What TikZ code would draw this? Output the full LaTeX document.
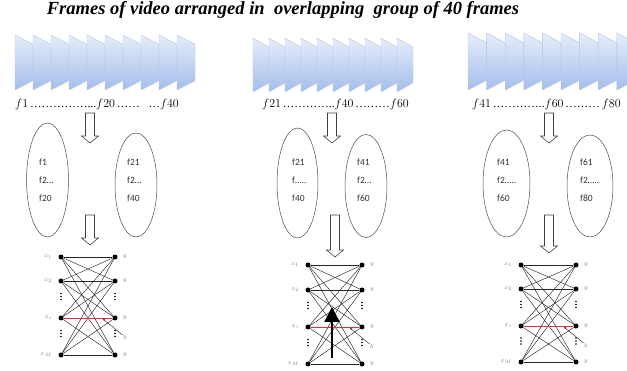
\documentclass[tikz,border=0pt]{standalone}
\usepackage{fontspec}
\setmainfont{Liberation Serif}
\newfontfamily\calibri{Carlito}
\usetikzlibrary{shapes.geometric, arrows.meta, positioning}

\definecolor{frametop}{HTML}{E6EDFA}
\definecolor{framebot}{HTML}{A4BEEB}
\definecolor{frameline}{HTML}{B6C6DE}
\definecolor{edgered}{HTML}{E0303C}

\begin{document}
\begin{tikzpicture}[x=1pt, y=-1pt,
    frame/.style={top color=frametop, bottom color=framebot, draw=frameline, line width=0.4pt},
    hollow/.style={draw=black!75, line width=0.6pt, fill=white},
    setell/.style={ellipse, draw=black!70, line width=0.5pt, inner sep=0pt},
    settxt/.style={font=\calibri\fontsize{9.5}{18}\selectfont, align=left, anchor=west, text=black!80, inner sep=0pt},
    flab/.style={anchor=west, inner sep=0pt, font=\fontsize{11.5}{13}\selectfont},
    vert/.style={circle, fill=black, inner sep=0pt, minimum size=5pt},
    link/.style={black!85, line width=0.45pt},
    vlab/.style={font=\fontsize{6}{7}\selectfont, text=black!50, inner sep=0pt}]

    \useasboundingbox (0,0) rectangle (627,371);
    \clip (0,0) rectangle (627,371);

    % 标题
    \node[font=\bfseries\itshape\fontsize{18.5}{20}\selectfont] (title) at (283,10) {Frames of video arranged in\ \ overlapping\ \ group of 40 frames};

    % 1. 三组视频帧 (梯形, 渐变填充)
    \foreach \fx/\fy/\fw/\fh/\fn in {15/35/18/55/10, 253/38/16/54/10, 468/33/18.6/57/9}
    {
        \foreach \k in {1,...,\fn}
        {
            \pgfmathsetmacro{\xa}{\fx + (\k-1)*\fw}
            \pgfmathsetmacro{\xb}{\xa + \fw}
            \pgfmathsetmacro{\dy}{0.17*\fh}
            \path[frame] (\xa,\fy) -- (\xb,\fy+\dy) -- (\xb,\fy+\fh-\dy) -- (\xa,\fy+\fh) -- cycle;
        }
    }

    % 帧编号
    \node[flab] (F1) at (15,105) {$f1$\,……………...$f20$\,……\ \ \ …$f40$};
    \node[flab] (F2) at (262,105) {$f21$\,…………..$f40$\,………$f60$};
    \node[flab] (F3) at (472,105) {$f41$\,…………..$f60$\,………\,$f80$};

    % 2. 空心下箭头
    \foreach \ax/\ya/\yb in {90/113/143, 90/215/245, 332/113/143, 335/215/257, 549/113/143, 549/215/253}
    {
        \draw[hollow] (\ax-4.5,\ya) -- (\ax+4.5,\ya) -- (\ax+4.5,\yb-7) -- (\ax+8.5,\yb-7)
            -- (\ax,\yb) -- (\ax-8.5,\yb-7) -- (\ax-4.5,\yb-7) -- cycle;
    }

    % 3. 每组分成两个集合 (椭圆)
    \node[setell, minimum width=42pt, minimum height=114pt] (S1a) at (47.5,180) {};
    \node[setell, minimum width=42pt, minimum height=104pt] (S1b) at (136,185) {};
    \node[setell, minimum width=41pt, minimum height=110pt] (S2a) at (297.5,183) {};
    \node[setell, minimum width=42pt, minimum height=103pt] (S2b) at (366,186) {};
    \node[setell, minimum width=47pt, minimum height=107pt] (S3a) at (506.5,183.5) {};
    \node[setell, minimum width=46pt, minimum height=102pt] (S3b) at (590,186) {};

    \node[settxt] (T1a) at (39,180) {f1\\f2…\\f20};
    \node[settxt] (T1b) at (127,180) {f21\\f2…\\f40};
    \node[settxt] (T2a) at (292,180) {f21\\f…..\\f40};
    \node[settxt] (T2b) at (357,180) {f41\\f2…\\f60};
    \node[settxt] (T3a) at (497,180) {f41\\f2…..\\f60};
    \node[settxt] (T3b) at (580,180) {f61\\f2…..\\f80};

    % 4. 二部图 (每一行左右全连接)
    \foreach \p/\lx/\rx/\ya/\yb/\yc/\yd in {1/61/115/257/281/318/355, 2/308/362/265/290/327/364, 3/521/576/265/289/326/362}
    {
        \foreach \r/\ry/\lab in {1/\ya/x_1, 2/\yb/x_2, 3/\yc/x_i, 4/\yd/x_M}
        {
            \node[vert] (X\p\r) at (\lx,\ry) {};
            \node[vert] (Y\p\r) at (\rx,\ry) {};
            \node[vlab, left=6pt of X\p\r] (XL\p\r) {$\lab$};
            \node[vlab, right=5pt of Y\p\r] (YL\p\r) {$y$};
        }

        % 全部连线, 红色为 x_i 的水平边
        \foreach \i in {1,...,4}
            \foreach \j in {1,...,4}
                \draw[link] (X\p\i) -- (Y\p\j);
        \draw[edgered, line width=0.9pt] (X\p3) -- (Y\p3);

        % 竖直省略点
        \pgfmathsetmacro{\dotA}{(\yb+\yc)/2-3}
        \pgfmathsetmacro{\dotB}{(\yc+\yd)/2-3}
        \foreach \xx in {\lx,\rx}
            \foreach \yy in {\dotA, \dotB}
            {
                \fill (\xx,\yy-3) circle (0.9);
                \fill (\xx,\yy) circle (0.9);
                \fill (\xx,\yy+3) circle (0.9);
            }

        % h 标注
        \node[vlab] (H\p) at (\rx+10,\yc+19) {$h$};
        \coordinate (P\p) at (\rx-12,\yc+1);
        \draw[link, -{Stealth[length=2.5pt, width=2pt]}] (H\p) -- (P\p);
    }

    % 5. 第二组中的粗箭头
    \coordinate (B0) at (332,358);
    \coordinate (B1) at (332,307);
    \draw[line width=2.6pt, -{Triangle[length=15pt, width=15pt]}] (B0) -- (B1);

\end{tikzpicture}
\end{document}
